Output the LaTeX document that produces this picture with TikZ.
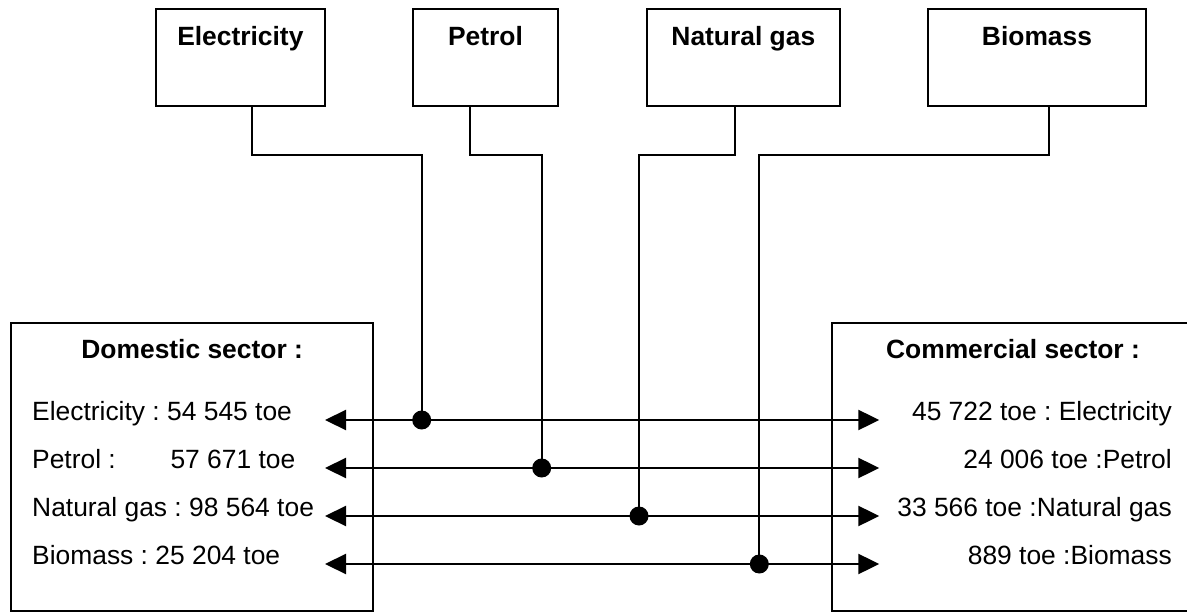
\documentclass[tikz,border=0pt]{standalone}
\usepackage{fontspec}
\setmainfont{Liberation Sans}
\usetikzlibrary{arrows.meta}

\tikzset{
  txt/.style={inner sep=0pt, font=\fontsize{26.4}{30}\selectfont\frenchspacing},
  hdr/.style={txt, font=\fontsize{26.4}{30}\selectfont\frenchspacing\bfseries},
  srcbox/.style={draw, line width=2pt, inner sep=0pt, minimum height=96.7pt},
  sectorbox/.style={draw, line width=2pt, inner sep=0pt, minimum width=362.3pt, minimum height=287.7pt},
  feed/.style={line width=1.8pt},
  flow/.style={line width=2.2pt, {Triangle[length=21pt,width=20pt]}-{Triangle[length=21pt,width=20pt]}},
  junction/.style={circle, fill, inner sep=0pt, minimum size=19pt},
}

\begin{document}
\begin{tikzpicture}[x=1pt, y=-1pt]
  \useasboundingbox (0,0) rectangle (1187,613);
  \clip (0,0) rectangle (1187,613);

  % energy sources
  \node[srcbox, minimum width=169.3pt] (elec) at (240.35,57.65) {};
  \node[srcbox, minimum width=144.4pt] (petrol) at (485.5,57.65) {};
  \node[srcbox, minimum width=193.3pt] (gas) at (743.35,57.65) {};
  \node[srcbox, minimum width=217.4pt] (bio) at (1037,57.65) {};
  \node[hdr, anchor=base] (elecT) at (240.35,45.3) {Electricity};
  \node[hdr, anchor=base] (petrolT) at (485.5,45.3) {Petrol};
  \node[hdr, anchor=base] (gasT) at (743.35,45.3) {Natural gas};
  \node[hdr, anchor=base] (bioT) at (1037,45.3) {Biomass};

  % consuming sectors
  \node[sectorbox] (dom) at (192.15,467.15) {};
  \node[sectorbox] (com) at (1012.85,467.15) {};
  \node[hdr, anchor=base] (domT) at (192.2,358.3) {Domestic sector :};
  \node[hdr, anchor=base] (comT) at (1013,358.3) {Commercial sector :};

  % left-hand figures
  \node[txt, anchor=base west] (dE) at (32,420.5) {Electricity : 54 545 toe};
  \node[txt, anchor=base west] (dP) at (32,468.5) {Petrol :\hspace*{54.7pt}57 671 toe};
  \node[txt, anchor=base west] (dG) at (32,516.5) {Natural gas : 98 564 toe};
  \node[txt, anchor=base west] (dB) at (32,564.5) {Biomass : 25 204 toe};

  % right-hand figures
  \node[txt, anchor=base east] (cE) at (1172,420.5) {45 722 toe : Electricity};
  \node[txt, anchor=base east] (cP) at (1172,468.5) {24 006 toe :Petrol};
  \node[txt, anchor=base east] (cG) at (1172,516.5) {33 566 toe :Natural gas};
  \node[txt, anchor=base east] (cB) at (1172,564.5) {889 toe :Biomass};

  % arrow ends
  \coordinate (l1) at (325,420);   \coordinate (r1) at (879.3,420);
  \coordinate (l2) at (325,468);   \coordinate (r2) at (879.3,468);
  \coordinate (l3) at (325,516);   \coordinate (r3) at (879.3,516);
  \coordinate (l4) at (325,564);   \coordinate (r4) at (879.3,564);

  \draw[flow] (l1) -- (r1);
  \draw[flow] (l2) -- (r2);
  \draw[flow] (l3) -- (r3);
  \draw[flow] (l4) -- (r4);

  % junctions on the flows
  \coordinate (jE) at (421.7,420);
  \coordinate (jP) at (541.7,468);
  \coordinate (jG) at (639,516);
  \coordinate (jB) at (759.3,564);

  \draw[feed] ([xshift=12pt]elec.south) -- ++(0,48.3) -| (jE);
  \draw[feed] ([xshift=-15.5pt]petrol.south) -- ++(0,48.3) -| (jP);
  \draw[feed] ([xshift=-8.35pt]gas.south) -- ++(0,48.3) -| (jG);
  \draw[feed] ([xshift=12pt]bio.south) -- ++(0,48.3) -| (jB);

  \node[junction] (kE) at (jE) {};
  \node[junction] (kP) at (jP) {};
  \node[junction] (kG) at (jG) {};
  \node[junction] (kB) at (jB) {};
\end{tikzpicture}
\end{document}
